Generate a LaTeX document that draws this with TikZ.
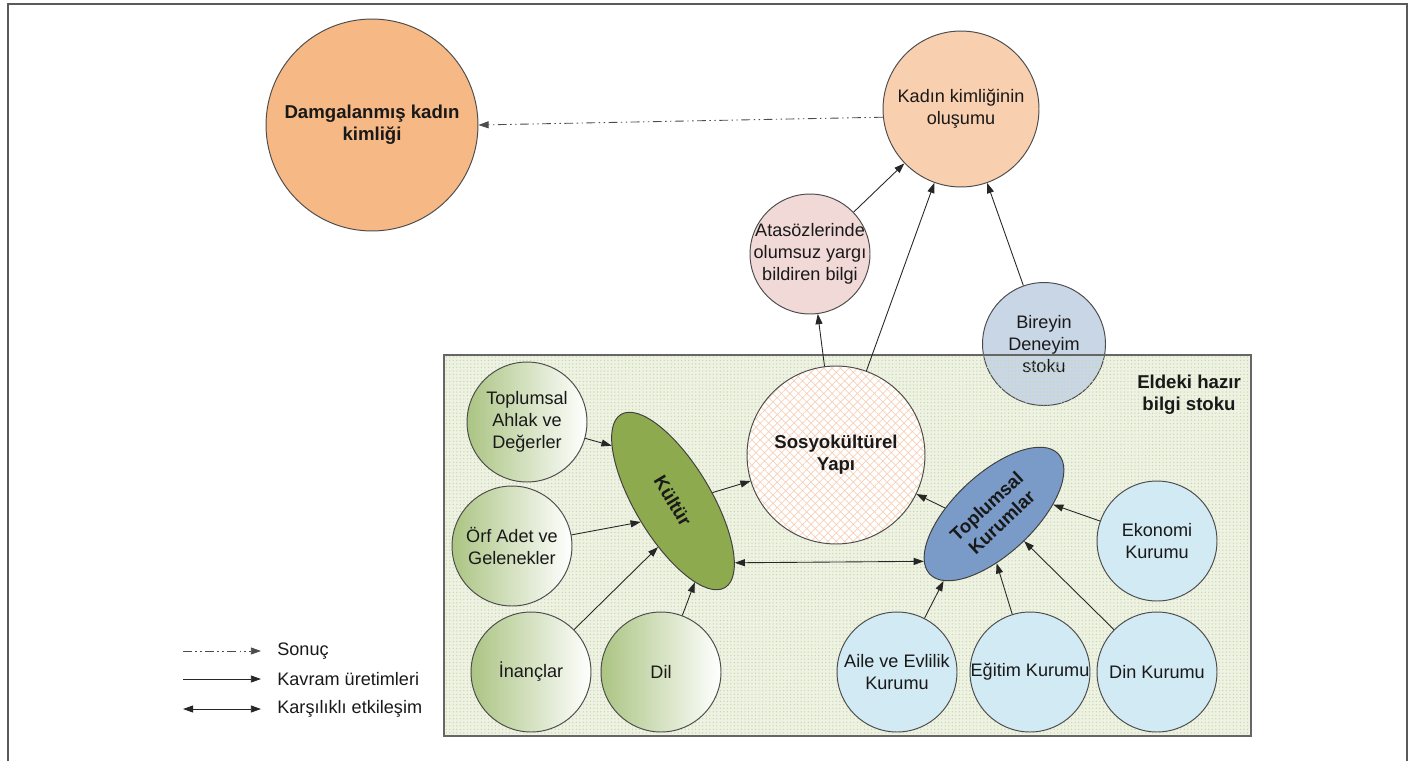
\documentclass[tikz,border=0pt]{standalone}
\usepackage{fontspec}
\setmainfont{Liberation Sans}
\usetikzlibrary{arrows.meta,patterns.meta,shapes.geometric}

\definecolor{damgaTuruncu}{HTML}{F6B986}
\definecolor{kadinSeftali}{HTML}{F8CFAF}
\definecolor{atasozPembe}{HTML}{F1D9D7}
\definecolor{bireyGri}{HTML}{C9D6E6}
\definecolor{bilgiZemin}{HTML}{EEF2E2}
\definecolor{bilgiNokta}{HTML}{C9D6AC}
\definecolor{sosyoTarama}{HTML}{F7D0B8}
\definecolor{yesilKoyu}{HTML}{ABC483}
\definecolor{kulturYesil}{HTML}{8DAA4F}
\definecolor{kurumMavi}{HTML}{7A9BC7}
\definecolor{kurumAcik}{HTML}{D2EAF3}
\definecolor{cerceve}{HTML}{5A5A5A}

\tikzset{
	metin/.style={align=center, inner sep=0pt, text=black!90, font=\fontsize{10.3}{12.4}\selectfont},
	kalin/.style={metin, font=\fontsize{10.6}{12.6}\selectfont\bfseries},
	konu/.style={circle, draw=black!70, line width=0.55pt, metin},
	yesil/.style={konu, minimum size=2.4cm, left color=yesilKoyu, right color=white},
	mavi/.style={konu, minimum size=2.4cm, fill=kurumAcik},
	ok/.style={-{Triangle[length=5.8pt,width=4pt]}, line width=0.5pt, black!85},
	ciftok/.style={{Triangle[length=5.8pt,width=4pt]}-{Triangle[length=5.8pt,width=4pt]}, line width=0.5pt, black!85},
	sonucok/.style={ok, black!70, dash pattern=on 5pt off 2pt on 0.8pt off 2pt on 0.8pt off 2pt},
}

\begin{document}
\begin{tikzpicture}[x=0.02cm, y=-0.02cm]
	\useasboundingbox (0,0) rectangle (1410,761);
	%%%%% START %%%%%
	\draw[cerceve, line width=1.1pt] (8,761) -- (8,4) -- (1407,4) -- (1407,761);
	
	% eldeki hazir bilgi stoku
	\fill[bilgiZemin] (444,355) rectangle (1251,736);
	\node[konu, minimum size=2.46cm, fill=bireyGri] (birey) at (1044,344) {Bireyin\\Deneyim\\stoku};
	\draw[black!60, line width=0.7pt, pattern={Dots[distance=2pt,radius=0.4pt]}, pattern color=bilgiNokta] (444,355) rectangle (1251,736);
	\node[kalin] (bilgi) at (1189,395) {Eldeki hazır\\bilgi stoku};
	
	% ust kisim
	\node[konu, kalin, draw=black!70, minimum size=4.24cm, fill=damgaTuruncu] (damga) at (372,125) {Damgalanmış kadın\\kimliği};
	\node[konu, minimum size=3.12cm, fill=kadinSeftali] (kadin) at (961,109) {Kadın kimliğinin\\oluşumu};
	\node[konu, minimum size=2.4cm, fill=atasozPembe, path picture={\node[metin] at (path picture bounding box.center) {Atasözlerinde\\olumsuz yargı\\bildiren bilgi};}] (atasoz) at (810,254) {};
	
	\node[konu, kalin, draw=black!70, minimum size=3.56cm, preaction={fill=white}, pattern={Hatch[angle=45,distance=3.4pt,line width=0.4pt]}, pattern color=sosyoTarama] (sosyo) at (836,455) {Sosyokültürel\\Yapı};
	
	% kultur tarafi
	\node[yesil] (ahlak) at (527,422) {Toplumsal\\Ahlak ve\\Değerler};
	\node[yesil] (orf) at (512,546) {Örf Adet ve\\Gelenekler};
	\node[yesil] (inanc) at (531,672) {İnançlar};
	\node[yesil] (dil) at (661,672) {Dil};
	\node[ellipse, draw=black!75, line width=0.55pt, fill=kulturYesil, kalin, minimum width=4.04cm, minimum height=1.52cm, rotate=-59] (kultur) at (673,501) {Kültür};
	
	% kurumlar tarafi
	\node[mavi] (ekonomi) at (1157,541) {Ekonomi\\Kurumu};
	\node[mavi] (aile) at (897,672) {Aile ve Evlilik\\Kurumu};
	\node[mavi] (egitim) at (1030,672) {Eğitim Kurumu};
	\node[mavi] (din) at (1157,672) {Din Kurumu};
	\node[ellipse, draw=black!75, line width=0.55pt, fill=kurumMavi, kalin, minimum width=3.52cm, minimum height=1.6cm, rotate=43] (kurum) at (994,514) {Toplumsal\\Kurumlar};
	
	% oklar
	\draw[sonucok] (kadin.186) -- (damga.east);
	\draw[ok] (atasoz) -- (kadin);
	\draw[ok] (sosyo) -- (kadin);
	\draw[ok] (birey) -- (kadin);
	\draw[ok] (sosyo) -- (atasoz);
	
	\draw[ok] (ahlak) -- (kultur.197);
	\draw[ok] (orf) -- (kultur.272);
	\draw[ok] (inanc) -- (kultur.311);
	\draw[ok] (dil) -- (kultur.344);
	\draw[ok] (kultur.71) -- (sosyo);
	
	\draw[ok] (kurum.130) -- (sosyo);
	\draw[ok] (ekonomi) -- (kurum.326);
	\draw[ok] (aile) -- (kurum.190);
	\draw[ok] (egitim) -- (kurum.230);
	\draw[ok] (din) -- (kurum.275);
	\draw[ciftok] (kultur.14) -- (kurum.171);
	
	% lejant
	\coordinate (ls1) at (183,651);
	\coordinate (ls2) at (261,651);
	\coordinate (lk1) at (183,679);
	\coordinate (lk2) at (261,679);
	\coordinate (le1) at (183,709);
	\coordinate (le2) at (261,709);
	\node[metin, anchor=west] (lsonuc) at (277,651) {Sonuç};
	\node[metin, anchor=west] (lkavram) at (277,679) {Kavram üretimleri};
	\node[metin, anchor=west] (letkilesim) at (277,709) {Karşılıklı etkileşim};
	\draw[sonucok] (ls1) -- (ls2);
	\draw[ok] (lk1) -- (lk2);
	\draw[ciftok] (le1) -- (le2);
	%%%%% END %%%%%
\end{tikzpicture}
\end{document}
